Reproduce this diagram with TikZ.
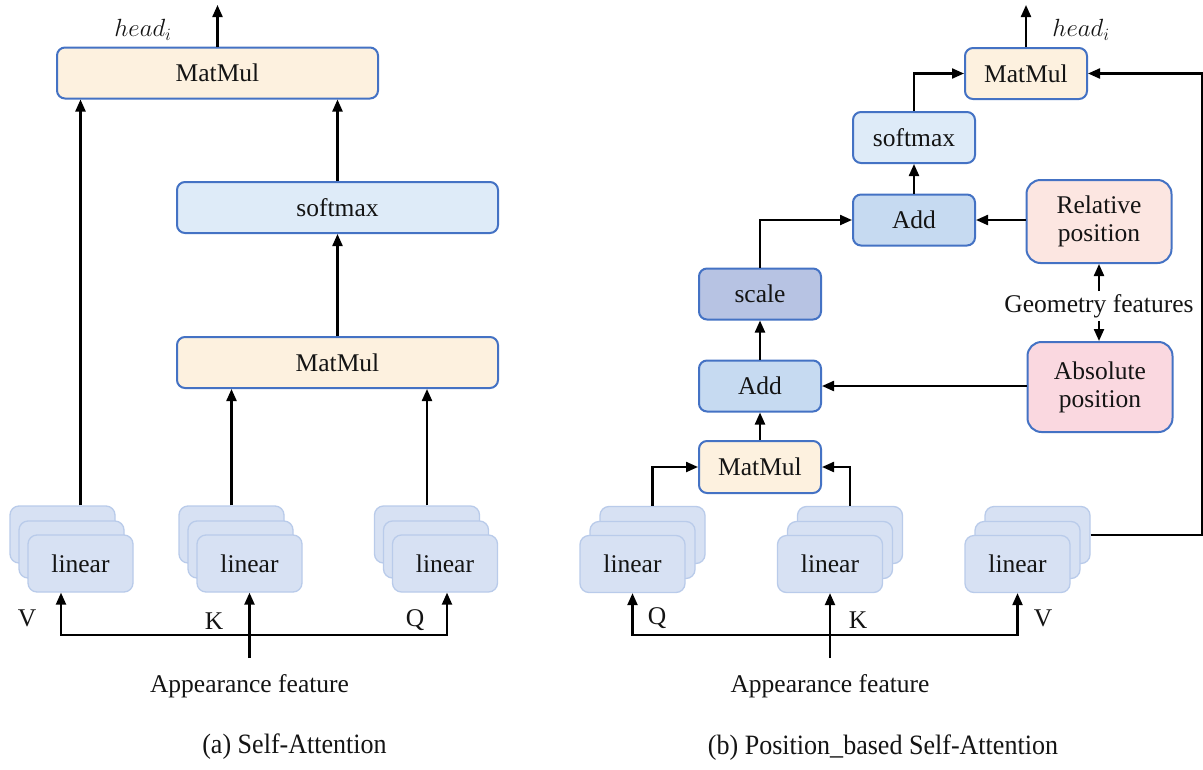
\documentclass[tikz,border=0pt]{standalone}
\usepackage{fontspec}
\setmainfont{Liberation Serif}
\usetikzlibrary{arrows.meta,calc}
\definecolor{bord}{RGB}{68,114,196}
\definecolor{matfill}{RGB}{253,241,223}
\definecolor{smfill}{RGB}{222,235,248}
\definecolor{addfill}{RGB}{198,218,241}
\definecolor{scalefill}{RGB}{183,195,227}
\definecolor{relfill}{RGB}{252,230,225}
\definecolor{absfill}{RGB}{250,216,224}
\definecolor{linfill}{RGB}{215,225,243}
\definecolor{linbord}{RGB}{185,203,234}
\definecolor{txt}{RGB}{20,20,20}
\begin{document}
\begin{tikzpicture}[x=1pt,y=-1pt,
  every node/.style={text=txt,font=\fontsize{25.5}{30}\selectfont},
  box/.style={draw=bord,line width=2pt,rounded corners=8pt,inner sep=0pt},
  bigbox/.style={box,rounded corners=14pt,align=center},
  linbox/.style={draw=linbord,fill=linfill,line width=1.3pt,rounded corners=9pt,
     minimum width=105pt,minimum height=57pt,inner sep=0pt},
  arr/.style={line width=2.2pt,-{Triangle[length=12pt,width=10pt]}},
  arrs/.style={line width=2.2pt,{Triangle[length=12pt,width=10pt]}-{Triangle[length=12pt,width=10pt]}},
  lbl/.style={inner sep=1pt},
  captext/.style={font=\fontsize{28}{32}\selectfont,xscale=0.93}
]
\useasboundingbox[fill=white] (0,0) rectangle (1203,769);

% ---------------- Left panel ----------------
\node[box,fill=matfill,minimum width=321pt,minimum height=51pt] (mmL) at (217.5,73) {MatMul};
\node[box,fill=smfill,minimum width=321pt,minimum height=51pt] (smL) at (337.5,207.5) {softmax};
\node[box,fill=matfill,minimum width=321pt,minimum height=51pt] (mm2) at (337.5,362.5) {MatMul};

% linear stacks (left: offset up-left)
\foreach \n/\x in {V/80.5,K/249.5,Q/445}{
  \node[linbox] (\n L3) at (\x-18,563.5-29) {};
  \node[linbox] (\n L2) at (\x-9,563.5-14) {};
  \node[linbox] (\n L1) at (\x,563.5) {linear};
}

\coordinate (headL) at (217.5,5);
\draw[arr] (mmL.north) -- (headL);
\node[lbl] (hL) at (143,30) {$head_i$};
\draw[arr] (smL.north) -- (smL.north |- mmL.south);
\draw[arr] (mm2.north) -- (smL.south);
\draw[arr] (VL1.north |- VL3.north) -- (VL1.north |- mmL.south);
\draw[arr] (KL3.north) -- (KL3.north |- mm2.south);
\draw[arr] (QL3.north) -- (QL3.north |- mm2.south);

\coordinate (bl1) at (61,635);
\coordinate (bl2) at (447,635);
\coordinate (inL) at (249.5,658);
\draw[arrs] (bl1 |- VL1.south) -- (bl1) -- (bl2) -- (bl2 |- QL1.south);
\draw[arr] (inL) -- (KL1.south);
\node[lbl] (vlab) at (27,618) {V};
\node[lbl] (klab) at (214,621) {K};
\node[lbl] (qlab) at (415,620) {Q};
\node (appL) at (249.5,686) {Appearance feature};
\node[captext] (capL) at (294.5,747) {(a) Self-Attention};

% ---------------- Right panel ----------------
\node[box,fill=matfill,minimum width=122pt,minimum height=52pt] (mm3) at (760,467) {MatMul};
\node[box,fill=addfill,minimum width=122pt,minimum height=51pt] (add1) at (760,386) {Add};
\node[box,fill=scalefill,minimum width=122pt,minimum height=51pt] (scl) at (760,294) {scale};
\node[box,fill=addfill,minimum width=122pt,minimum height=51pt] (add2) at (914,220) {Add};
\node[box,fill=smfill,minimum width=122pt,minimum height=51pt] (sm2) at (914,137.5) {softmax};
\node[box,fill=matfill,minimum width=122pt,minimum height=51pt] (mm4) at (1026,73.5) {MatMul};
\node[bigbox,fill=relfill,minimum width=145pt,minimum height=83pt] (rel) at (1099,221.5) {Relative\\[-2pt]position};
\node[bigbox,fill=absfill,minimum width=145pt,minimum height=90pt] (abs) at (1100,387) {Absolute\\[-2pt]position};
\node[inner sep=3pt] (geo) at (1099,306) {Geometry features};

\foreach \n/\x in {Q/632.5,K/830,V/1017.5}{
  \node[linbox] (\n R3) at (\x+20,564-29) {};
  \node[linbox] (\n R2) at (\x+10,564-14) {};
  \node[linbox] (\n R1) at (\x,564) {linear};
}

\coordinate (headR) at (1026,5);
\draw[arr] (mm4.north) -- (headR);
\node[lbl] (hR) at (1081,30) {$head_i$};
\draw[arr] (sm2.north) |- (mm4.west);
\draw[arr] (add2.north) -- (sm2.south);
\draw[arr] (scl.north) |- (add2.west);
\draw[arr] (add1.north) -- (scl.south);
\draw[arr] (mm3.north) -- (add1.south);
\draw[arr] (rel.west |- add2.east) -- (add2.east);
\draw[arr] (abs.west |- add1.east) -- (add1.east);
\draw[arr] (geo.north) -- (geo.north |- rel.south);
\draw[arr] (geo.south) -- (geo.south |- abs.north);
\draw[arr] (QR3.north) |- (mm3.west);
\draw[arr] (KR3.north) |- (mm3.east);
\coordinate (rc) at (1202,73.5);
\draw[arr] (VR3.east) -| (rc) -- (mm4.east);

\coordinate (br1) at (632.5,635);
\coordinate (br2) at (1017.5,635);
\coordinate (inR) at (830,658);
\draw[arrs] (br1 |- QR1.south) -- (br1) -- (br2) -- (br2 |- VR1.south);
\draw[arr] (inR) -- (KR1.south);
\node[lbl] (qlabR) at (657,618) {Q};
\node[lbl] (klabR) at (858,620) {K};
\node[lbl] (vlabR) at (1043,618) {V};
\node (appR) at (830,686) {Appearance feature};
\node[captext] (capR) at (883,748) {(b) Position\_based Self-Attention};
\end{tikzpicture}
\end{document}
